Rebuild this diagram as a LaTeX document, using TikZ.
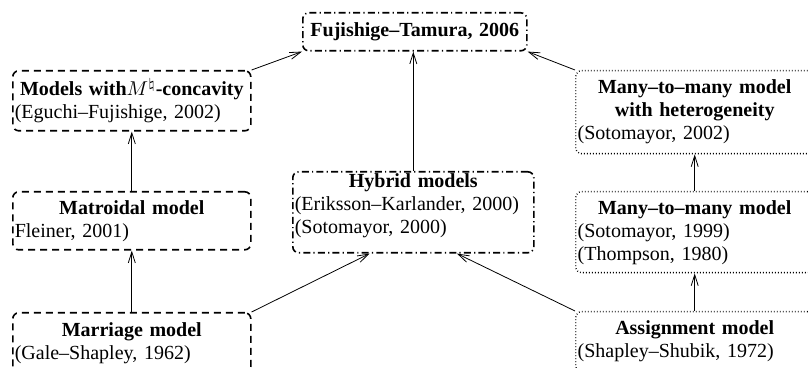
\documentclass[tikz,border=0pt]{standalone}
\usepackage{fontspec}
\setmainfont{Liberation Serif}
\usetikzlibrary{arrows.meta,calc}

\newcommand\boxtitle[1]{\makebox[\linewidth]{\bfseries #1}}

\tikzset{
    model/.style={
        draw,
        rounded corners=3pt,
        anchor=north west,
        inner xsep=1pt,
        inner ysep=0pt,
        text width=#1,
        align=left,
        font=\fontsize{10}{11.5}\selectfont,
    },
    classic/.style={
        model=#1,
        line width=0.8pt,
        dash pattern=on 3.5pt off 2.5pt,
    },
    hybrid/.style={
        model=#1,
        line width=0.8pt,
        dash pattern=on 3.5pt off 1.6pt on 0.6pt off 1.6pt,
    },
    multi/.style={
        model=#1,
        line width=0.7pt,
        dash pattern=on 0.4pt off 1.1pt,
    },
    link/.style={
        draw,
        line width=0.4pt,
        -{Straight Barb[length=5.5pt,width=3.5pt]},
    },
}

\begin{document}
\begin{tikzpicture}[x=0.5pt,y=-0.5pt]
    \useasboundingbox (0,0) rectangle (808,368);
    \clip (0,0) rectangle (808,368);

    % top of the hierarchy
    \node[hybrid=110pt, align=center, minimum height=19pt] (fuji) at (302,12)
        {\textbf{Fujishige--Tamura, 2006}};

    % left column
    \node[classic=117pt, minimum height=30pt] (mconc) at (12,70)
        {\boxtitle{Models with$M^{\natural}$-concavity}\\(Eguchi--Fujishige, 2002)};
    \node[classic=117pt, minimum height=29pt] (matroid) at (12,191)
        {\boxtitle{Matroidal model}\\Fleiner, 2001)};
    \node[classic=117pt, minimum height=30pt] (marriage) at (12,312)
        {\boxtitle{Marriage model}\\(Gale--Shapley, 1962)};

    % middle (extra depth on the last line lifts the text a little)
    \node[hybrid=118.5pt, minimum height=40.5pt] (hybrid) at (292,171)
        {\boxtitle{Hybrid models}\\(Eriksson--Karlander, 2000)\\(Sotomayor, 2000)\rule[-8.5pt]{0pt}{1pt}};

    % right column
    \node[multi=117pt, minimum height=41.5pt] (hetero) at (575,70)
        {\boxtitle{Many--to--many model}\\\boxtitle{with heterogeneity}\\(Sotomayor, 2002)};
    \node[multi=117pt, minimum height=40.5pt] (manymany) at (575,191)
        {\boxtitle{Many--to--many model}\\(Sotomayor, 1999)\\(Thompson, 1980)};
    \node[multi=117pt, minimum height=30pt] (assign) at (575,311)
        {\boxtitle{Assignment model}\\(Shapley--Shubik, 1972)};

    \draw[link] (marriage.north) -- (matroid.south);
    \draw[link] (matroid.north) -- (mconc.south);
    \draw[link] (mconc.north east) -- (fuji.south west);
    \draw[link] (hybrid.north) -- (hybrid.north |- fuji.south);
    \draw[link] (hetero.north west) -- (fuji.south east);
    \draw[link] (manymany.north) -- (hetero.south);
    \draw[link] (assign.north) -- (manymany.south);
    \draw[link] (marriage.north east) -- ($(hybrid.south west)!0.32!(hybrid.south east)$);
    \draw[link] (assign.north west) -- ($(hybrid.south west)!0.68!(hybrid.south east)$);
\end{tikzpicture}
\end{document}
